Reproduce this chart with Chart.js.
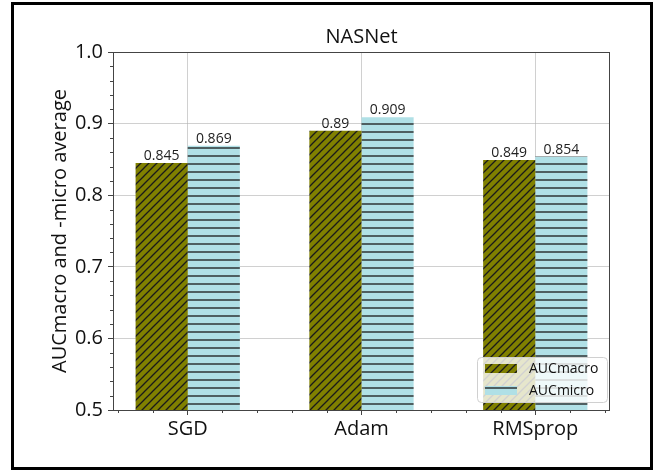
<!DOCTYPE html>
<html>
<head>
<meta charset="utf-8">
<script src="https://cdn.jsdelivr.net/npm/chart.js@4.4.1/dist/chart.umd.min.js"></script>
<style>
  html, body { margin: 0; padding: 0; background: #fff; }
  #wrap { width: 657px; height: 470px; position: relative; }
</style>
</head>
<body>
<div id="wrap"><canvas id="aucChart"></canvas></div>
<script>
// data
const categories = ["SGD", "Adam", "RMSprop"];
const aucMacro = [0.845, 0.89, 0.849];
const aucMicro = [0.869, 0.909, 0.854];
const yTicks = [0.5, 0.6, 0.7, 0.8, 0.9, 1.0];
const seriesNames = ["AUCmacro", "AUCmicro"];

const FONT = "'Open Sans', 'DejaVu Sans', sans-serif";

// hatch fills
function hatch(bg, kind) {
    const c = document.createElement("canvas");
    c.width = 8; c.height = 8;
    const g = c.getContext("2d");
    g.fillStyle = bg;
    g.fillRect(0, 0, 8, 8);
    g.strokeStyle = "#1a1a1a";
    g.lineWidth = 1.3;
    g.beginPath();
    if (kind === "diag") {
        g.moveTo(-1, 9); g.lineTo(9, -1);
        g.moveTo(-1, 1); g.lineTo(1, -1);
        g.moveTo(7, 9); g.lineTo(9, 7);
    } else {
        g.moveTo(0, 4); g.lineTo(8, 4);
    }
    g.stroke();
    return g.createPattern(c, "repeat");
}

const macroFill = hatch("#808000", "diag");
const microFill = hatch("#b0e0e6", "horiz");

// small helpers drawn on top
const extras = {
    id: "extras",
    afterDraw(chart) {
        const ctx = chart.ctx;
        const a = chart.chartArea;
        const xs = chart.scales.x, ys = chart.scales.y;
        ctx.save();

        // spines
        ctx.strokeStyle = "#444";
        ctx.lineWidth = 1;
        ctx.strokeRect(a.left + 0.5, a.top + 0.5, a.right - a.left - 1, a.bottom - a.top);

        // minor ticks
        ctx.beginPath();
        for (let k = 1; k < 25; k++) {
            if (k % 5 === 0) continue;
            const py = Math.round(ys.getPixelForValue(0.5 + k * 0.02)) + 0.5;
            ctx.moveTo(a.left, py); ctx.lineTo(a.left - 3, py);
        }
        for (let k = -2; k <= 12; k++) {
            if (k % 5 === 0) continue;
            const px = Math.round(xs.getPixelForValue(k * 0.2)) + 0.5;
            ctx.moveTo(px, a.bottom); ctx.lineTo(px, a.bottom + 3);
        }
        ctx.stroke();

        // bar value labels
        ctx.fillStyle = "#222";
        ctx.font = "14px " + FONT;
        ctx.textAlign = "center";
        ctx.textBaseline = "bottom";
        chart.data.datasets.forEach((ds, i) => {
            chart.getDatasetMeta(i).data.forEach((el, j) => {
                ctx.fillText(String(ds.data[j].y), el.x, el.y);
            });
        });

        // title
        ctx.fillStyle = "#111";
        ctx.font = "20px " + FONT;
        ctx.textBaseline = "middle";
        ctx.fillText("NASNet", (a.left + a.right) / 2, 37);

        // legend
        const lx = 477, ly = 357, lw = 130, lh = 45;
        ctx.beginPath();
        ctx.roundRect(lx + 0.5, ly + 0.5, lw, lh, 4);
        ctx.fillStyle = "rgba(255,255,255,0.8)";
        ctx.fill();
        ctx.strokeStyle = "#d0d0d0";
        ctx.stroke();
        ctx.font = "14px " + FONT;
        ctx.textAlign = "left";
        chart.data.datasets.forEach((ds, i) => {
            const ry = ly + 7 + i * 22;
            ctx.fillStyle = ds.backgroundColor;
            ctx.fillRect(lx + 8, ry, 32, 9);
            ctx.fillStyle = "#111";
            ctx.fillText(ds.label, lx + 52, ry + 5);
        });

        // outer frame
        ctx.strokeStyle = "#000";
        ctx.lineWidth = 3;
        ctx.strokeRect(12.5, 3.5, 639, 465);
        ctx.restore();
    }
};

const chart = new Chart(document.getElementById("aucChart"), {
    type: "bar",
    data: {
        datasets: [
            {
                label: seriesNames[0],
                data: aucMacro.map((v, i) => ({ x: i, y: v })),
                backgroundColor: macroFill,
                borderWidth: 0
            },
            {
                label: seriesNames[1],
                data: aucMicro.map((v, i) => ({ x: i, y: v })),
                backgroundColor: microFill,
                borderWidth: 0
            }
        ]
    },
    options: {
        responsive: true,
        maintainAspectRatio: false,
        animation: false,
        devicePixelRatio: 1,
        layout: { padding: { top: 52, right: 47, left: 0, bottom: 0 } },
        categoryPercentage: 0.6,
        barPercentage: 1.0,
        plugins: {
            legend: { display: false },
            tooltip: { enabled: false },
            title: { display: false }
        },
        scales: {
            x: {
                type: "linear",
                min: -0.43,
                max: 2.43,
                offset: false,
                z: 1,
                afterBuildTicks: (s) => { s.ticks = categories.map((c, i) => ({ value: i })); },
                afterFit: (s) => { s.height = 60; },
                grid: {
                    offset: false,
                    color: "rgba(176,176,176,0.6)",
                    tickColor: "#444",
                    tickLength: 5,
                    lineWidth: 1
                },
                border: { display: false },
                ticks: {
                    autoSkip: false,
                    maxRotation: 0,
                    padding: 2,
                    color: "#111",
                    font: { family: FONT, size: 20 },
                    callback: (v) => categories[v]
                }
            },
            y: {
                min: 0.5,
                max: 1.0,
                z: 1,
                afterBuildTicks: (s) => { s.ticks = yTicks.map(v => ({ value: v })); },
                afterFit: (s) => { s.width = 113; },
                grid: {
                    color: "rgba(176,176,176,0.6)",
                    tickColor: "#444",
                    tickLength: 5,
                    lineWidth: 1
                },
                border: { display: false },
                ticks: {
                    padding: 5,
                    color: "#111",
                    font: { family: FONT, size: 20 },
                    callback: (v) => v.toFixed(1)
                },
                title: {
                    display: true,
                    text: "AUCmacro and -micro average",
                    color: "#111",
                    font: { family: FONT, size: 20 },
                    padding: { top: 48, bottom: 0 }
                }
            }
        }
    },
    plugins: [extras]
});
</script>
</body>
</html>
